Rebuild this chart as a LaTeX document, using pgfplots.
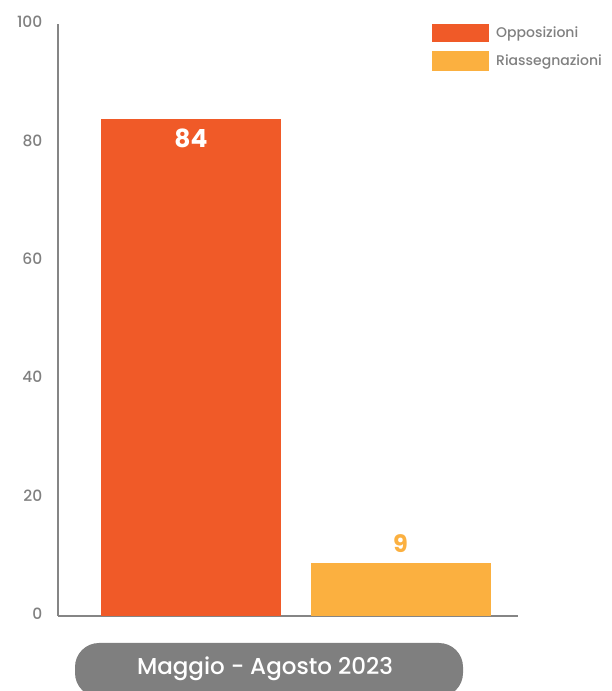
\documentclass[border=0pt]{standalone}
\usepackage{fontspec}
\setmainfont{Poppins}
\newfontfamily\pmed{Poppins Medium}
\usepackage{pgfplots}
\pgfplotsset{compat=1.18}
\definecolor{opp}{HTML}{F05A28}
\definecolor{ria}{HTML}{FBB040}
\definecolor{axgray}{HTML}{858585}
\definecolor{txtgray}{HTML}{808080}
\definecolor{pillgray}{HTML}{7F7F7F}
\begin{document}
\begin{tikzpicture}[x=1pt,y=1pt]
\useasboundingbox (0,0) rectangle (611,691);
\begin{axis}[
  at={(58pt,75pt)}, anchor=south west,
  scale only axis, width=460pt, height=592pt,
  xmin=0, xmax=460, ymin=0, ymax=100,
  axis x line=bottom, axis y line=left,
  axis line style={-, draw=axgray, line width=1.8pt},
  xtick=\empty, ytick={0,20,40,60,80,100},
  major tick style={draw=none},
  yticklabel style={font=\pmed\fontsize{15.5}{15.5}\selectfont, text=txtgray, xshift=-10pt, yshift=2pt},
  /pgf/number format/assume math mode=true,
  ybar, bar width=180pt, bar shift=0pt,
  legend style={at={(0.813,1.0)}, anchor=north west, draw=none, fill=none,
    inner sep=0pt, row sep=9pt, font=\pmed\fontsize{14}{14}\selectfont, text=txtgray,
    /tikz/every even column/.append style={column sep=0pt}},
  legend cell align=left,
  clip=false,
]
\addplot[fill=opp, draw=none,
  legend image code/.code={\fill[opp] (0pt,-9pt) rectangle (57pt,9pt);}]
  coordinates {(133,84)};
\addlegendentry{\hspace{5pt}Opposizioni}
\addplot[fill=ria, draw=none,
  legend image code/.code={\fill[ria] (0pt,-10pt) rectangle (57pt,10pt);}]
  coordinates {(342.5,9)};
\addlegendentry{\hspace{5pt}Riassegnazioni}
\node[text=white, font=\bfseries\fontsize{25}{25}\selectfont] at (axis cs:133,84) [yshift=-20pt] {84};
\node[text=ria, font=\bfseries\fontsize{24}{24}\selectfont] at (axis cs:342.5,9) [yshift=19pt] {9};
\end{axis}
\begin{scope}
\clip (0,0) rectangle (611,691);
\fill[pillgray, rounded corners=24pt] (75,-6) rectangle (463,48);
\node[text=white, font=\pmed\fontsize{23}{23}\selectfont] at (265,22) {Maggio - Agosto 2023};
\end{scope}
\end{tikzpicture}
\end{document}
